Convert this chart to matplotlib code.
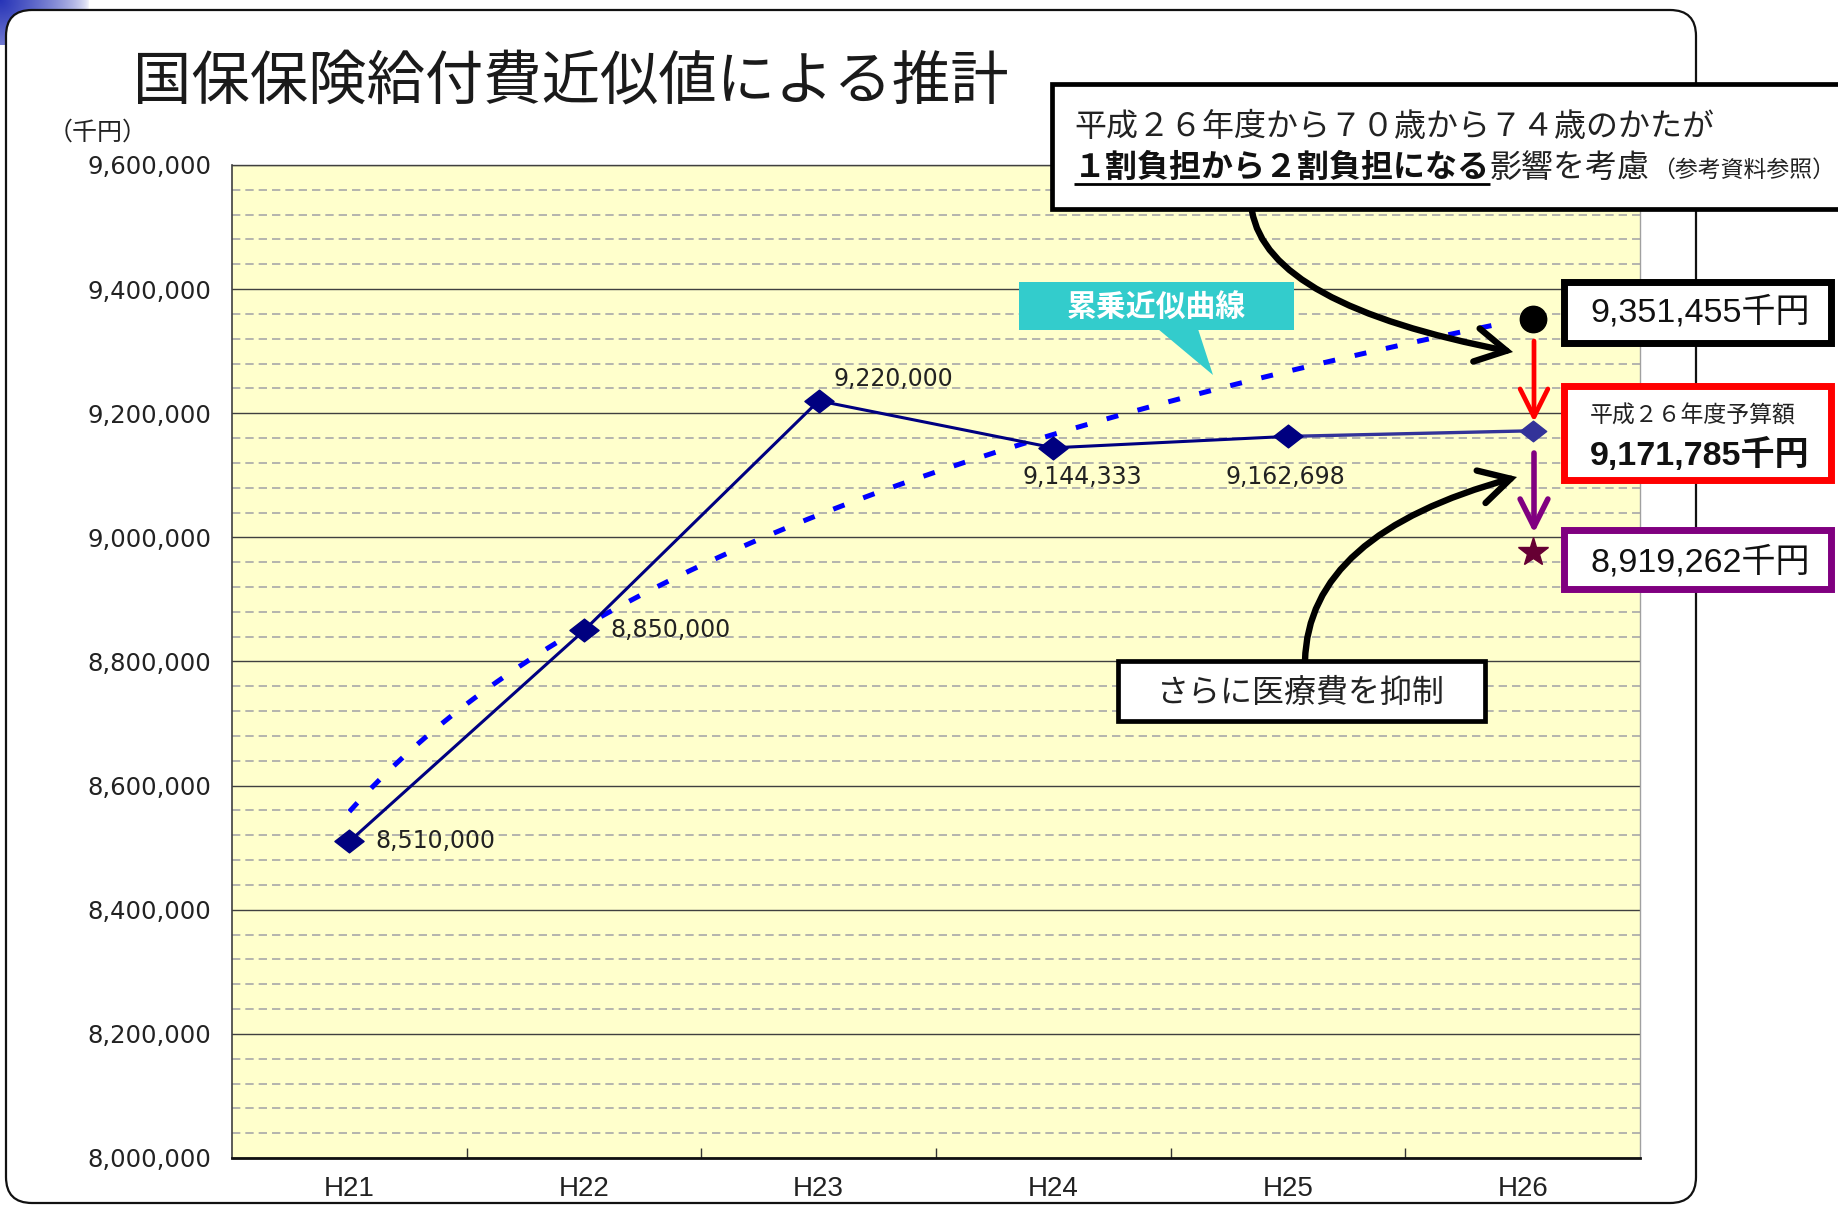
import numpy as np
import matplotlib
matplotlib.use('Agg')
import matplotlib.pyplot as plt
from matplotlib.patches import FancyBboxPatch, Rectangle, Polygon, FancyArrowPatch
from matplotlib.path import Path
import matplotlib.ticker as mticker

# ---------------- data ----------------
categories = ['H21', 'H22', 'H23', 'H24', 'H25', 'H26']
actual_values = [8510000, 8850000, 9220000, 9144333, 9162698]
actual_labels = ['8,510,000', '8,850,000', '9,220,000', '9,144,333', '9,162,698']
budget_h26 = 9171785
trend_h26 = 9351455
suppressed_h26 = 8919262
star_drawn_value = 8976000   # vertical position where the star is drawn in the picture
y_min, y_max = 8000000, 9600000
y_major_step, y_minor_step = 200000, 40000

title_text = '国保保険給付費近似値による推計'
unit_text = '（千円）'
note_line1 = '平成２６年度から７０歳から７４歳のかたが'
note_line2_bold = '１割負担から２割負担になる'
note_line2_rest = '影響を考慮'
note_line2_small = '（参考資料参照）'
callout_text = '累乗近似曲線'
budget_caption = '平成２６年度予算額'
suppress_text = 'さらに医療費を抑制'

# ---------------- figure ----------------
W, H, DPI = 1838, 1206, 100
fig = plt.figure(figsize=(W / DPI, H / DPI), dpi=DPI)
fig.patch.set_facecolor('white')

CJK = 'Noto Sans CJK JP'
MIX = ['Liberation Sans', CJK]

# background layer (pixel coords, y down)
bg = fig.add_axes([0, 0, 1, 1], zorder=0)
bg.set_xlim(0, W); bg.set_ylim(H, 0); bg.axis('off')

gx = np.linspace(0, 1, 90)
gy = np.linspace(0, 1, 45)
GX, GY = np.meshgrid(gx, gy)
alpha = np.clip(1.0 - np.sqrt((GX * 1.0) ** 2 + (GY * 0.5) ** 2), 0, 1) ** 0.6
img = np.zeros((45, 90, 4))
img[..., 0] = 0.15; img[..., 1] = 0.2; img[..., 2] = 0.72
img[..., 3] = alpha
bg.imshow(img, extent=[0, 90, 45, 0], aspect='auto', zorder=0)

panel = FancyBboxPatch((6, 10), 1690, 1193, boxstyle='round,pad=0,rounding_size=26',
                       facecolor='white', edgecolor='#111111', linewidth=1.6, zorder=1)
bg.add_patch(panel)

bg.text(571, 82, title_text, family=CJK, fontsize=42, ha='center', va='center',
        color='#1a1a1a', zorder=2)
bg.text(98, 133, unit_text, family=CJK, fontsize=18, ha='center', va='center',
        color='#222222', zorder=2)

# ---------------- chart axes ----------------
L, R, T, B = 232, 1640, 165, 1158
ax = fig.add_axes([L / W, 1 - B / H, (R - L) / W, (B - T) / H], zorder=1)
ax.set_facecolor('#FFFFCC')
ax.set_xlim(-0.5, len(categories) - 0.5)
ax.set_ylim(y_min, y_max)

ax.yaxis.set_major_locator(mticker.MultipleLocator(y_major_step))
ax.yaxis.set_minor_locator(mticker.MultipleLocator(y_minor_step))
ax.yaxis.set_major_formatter(mticker.FuncFormatter(lambda v, p: f'{int(round(v)):,}'))
ax.grid(which='major', axis='y', color='#404040', linewidth=1.0, linestyle='-')
ax.grid(which='minor', axis='y', color='#A8A8A8', linewidth=1.2, linestyle=(0, (5, 3)))
ax.set_axisbelow(True)
ax.tick_params(axis='y', which='both', length=0, pad=15, labelsize=17.5,
               labelcolor='#222222')
for lab in ax.get_yticklabels():
    lab.set_family('DejaVu Sans')

xi = np.arange(len(categories))
ax.set_xticks(xi[:-1] + 0.5)
ax.set_xticklabels([])
ax.set_xticks(xi, minor=True)
ax.set_xticklabels(categories, minor=True, family='Liberation Sans', fontsize=20,
                   color='#222222')
ax.tick_params(axis='x', which='major', direction='in', length=7, color='#333333', width=1)
ax.tick_params(axis='x', which='minor', length=0, pad=13)

ax.spines['left'].set_color('#404040'); ax.spines['left'].set_linewidth(1.2)
ax.spines['bottom'].set_color('#111111'); ax.spines['bottom'].set_linewidth(2.0)
ax.spines['top'].set_color('#404040'); ax.spines['top'].set_linewidth(1.0)
ax.spines['right'].set_color('#A0A0A0'); ax.spines['right'].set_linewidth(1.0)

# power trendline (累乗近似) fitted to the actual data
t_fit = np.arange(1, len(actual_values) + 1)
b_pow, ln_a = np.polyfit(np.log(t_fit), np.log(actual_values), 1)
t_curve = np.linspace(1, len(categories) - 0.05, 300)
trend_curve = np.exp(ln_a) * t_curve ** b_pow
ax.plot(t_curve - 1, trend_curve, color='#0000FF', linewidth=3.6,
        linestyle=(0, (2.4, 4.0)), zorder=3)

diamond = Path([(-1, 0), (0, 0.78), (1, 0), (0, -0.78), (-1, 0)],
               [Path.MOVETO, Path.LINETO, Path.LINETO, Path.LINETO, Path.CLOSEPOLY])
h26_x = len(categories) - 1 + 0.045

ax.plot([xi[len(actual_values) - 1], h26_x], [actual_values[-1], budget_h26],
        color='#333399', linewidth=2.4, zorder=4)
ax.plot(h26_x, budget_h26, marker=diamond, markersize=19, color='#333399', zorder=6)
ax.plot(xi[:len(actual_values)], actual_values, color='#000080', linewidth=2.2,
        marker=diamond, markersize=21, markerfacecolor='#000080',
        markeredgecolor='#000080', zorder=5)
ax.plot(h26_x, trend_h26, 'o', color='black', markersize=19, zorder=6)
ax.plot(h26_x, star_drawn_value, marker='*', color='#660033', markersize=22, zorder=6)

label_offsets = [(19, 0, 'left', 'center'), (19, 0, 'left', 'center'),
                 (11, 16, 'left', 'center'), (21, -21, 'center', 'center'),
                 (-2, -29, 'center', 'center')]
for i, (v, s) in enumerate(zip(actual_values, actual_labels)):
    dx, dy, ha, va = label_offsets[i]
    ax.annotate(s, (xi[i], v), xytext=(dx, dy), textcoords='offset points',
                ha=ha, va=va, fontsize=17, family='DejaVu Sans', color='#222222',
                zorder=7)

# ---------------- overlay (pixel coords, y down) ----------------
ov = fig.add_axes([0, 0, 1, 1], zorder=2)
ov.set_xlim(0, W); ov.set_ylim(H, 0); ov.axis('off')
ov.patch.set_alpha(0)

# teal callout
ov.add_patch(Rectangle((1019, 282), 275, 48, facecolor='#33CCCC', edgecolor='none', zorder=2))
ov.add_patch(Polygon([(1158, 329), (1198, 329), (1213, 375)], closed=True,
                     facecolor='#33CCCC', edgecolor='none', zorder=2))
ov.text(1156, 308, callout_text, family=CJK, fontsize=21.5, fontweight='bold',
        color='white', ha='center', va='center', zorder=3)

# top note box
ov.add_patch(Rectangle((1052, 84), 820, 125, facecolor='white', edgecolor='black',
                       linewidth=3.4, zorder=4, clip_on=False))
ov.text(1074, 127, note_line1, family=CJK, fontsize=23, color='#222222',
        ha='left', va='center', zorder=5)
fig.canvas.draw()
rend = fig.canvas.get_renderer()
t1 = ov.text(1074, 168, note_line2_bold, family=CJK, fontsize=23, fontweight='bold',
             color='#111111', ha='left', va='center', zorder=5)
e1 = t1.get_window_extent(rend)
t2 = ov.text(e1.x1, 168, note_line2_rest, family=CJK, fontsize=23, color='#222222',
             ha='left', va='center', zorder=5)
e2 = t2.get_window_extent(rend)
ov.text(e2.x1 + 2, 170, note_line2_small, family=CJK, fontsize=16.5, color='#222222',
        ha='left', va='center', zorder=5)
ov.plot([e1.x0, e1.x1], [184, 184], color='black', linewidth=2.0, zorder=5,
        solid_capstyle='butt')

# value boxes
ov.add_patch(Rectangle((1564, 282), 267, 61, facecolor='white', edgecolor='black',
                       linewidth=5, zorder=4))
ov.text(1700, 312, f'{trend_h26:,}千円', family=MIX, fontsize=24.5, color='#111111',
        ha='center', va='center', zorder=5)

ov.add_patch(Rectangle((1564, 386), 267, 94, facecolor='white', edgecolor='#FF0000',
                       linewidth=5, zorder=4))
ov.text(1693, 416, budget_caption, family=CJK, fontsize=16.5, color='#222222',
        ha='center', va='center', zorder=5)
ov.text(1700, 455, f'{budget_h26:,}千円', family=MIX, fontsize=24.5, fontweight='bold',
        color='#111111', ha='center', va='center', zorder=5)

ov.add_patch(Rectangle((1564, 530), 267, 59, facecolor='white', edgecolor='#800080',
                       linewidth=5, zorder=4))
ov.text(1700, 562, f'{suppressed_h26:,}千円', family=MIX, fontsize=24.5, color='#111111',
        ha='center', va='center', zorder=5)

# "さらに医療費を抑制" box
ov.add_patch(Rectangle((1118, 661), 367, 60, facecolor='white', edgecolor='black',
                       linewidth=3.4, zorder=4))
ov.text(1301, 693, suppress_text, family=CJK, fontsize=23, color='#222222',
        ha='center', va='center', zorder=5)

# curved black arrows
arr_kw = dict(arrowstyle='->,head_length=1.0,head_width=0.55', mutation_scale=22,
              color='black', linewidth=4.6, zorder=3, joinstyle='miter', capstyle='round')
p_up = Path([(1252, 211), (1268, 305), (1513, 352)], [Path.MOVETO, Path.CURVE3, Path.CURVE3])
ov.add_patch(FancyArrowPatch(path=p_up, **arr_kw))
p_lo = Path([(1305, 661), (1308, 534), (1517, 477)], [Path.MOVETO, Path.CURVE3, Path.CURVE3])
ov.add_patch(FancyArrowPatch(path=p_lo, **arr_kw))

# red and purple vertical arrows
ov.add_patch(FancyArrowPatch((1534, 341), (1534, 422),
                             arrowstyle='->,head_length=1.0,head_width=0.5',
                             mutation_scale=20, color='#FF0000', linewidth=3.4, zorder=3,
                             shrinkA=0, shrinkB=0))
ov.add_patch(FancyArrowPatch((1534, 453), (1534, 533),
                             arrowstyle='->,head_length=1.0,head_width=0.5',
                             mutation_scale=20, color='#800080', linewidth=4.0, zorder=3,
                             shrinkA=0, shrinkB=0))

fig.savefig('out.png', dpi=DPI)
